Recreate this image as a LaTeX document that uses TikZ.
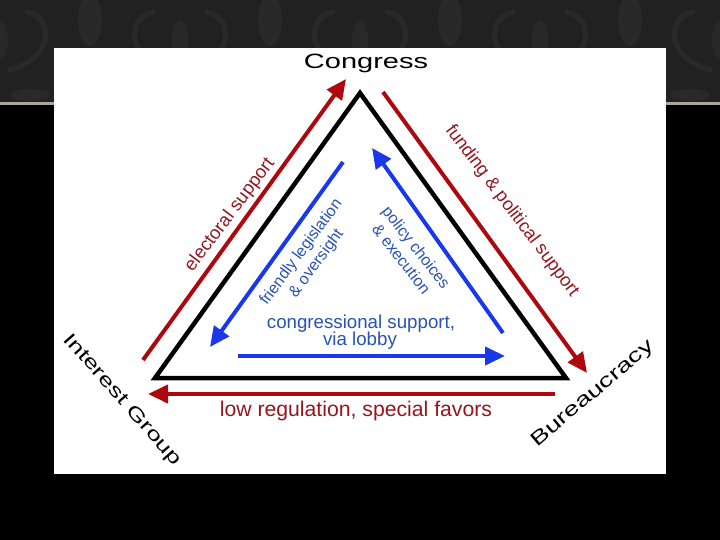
\documentclass[tikz,border=0pt]{standalone}
\usepackage{fontspec}
\setmainfont{Liberation Sans}
\newfontfamily\widefont[FakeStretch=1.4]{Liberation Sans}
\usetikzlibrary{arrows.meta}
\definecolor{arrred}{RGB}{172,8,14}
\definecolor{txtred}{RGB}{150,22,30}
\definecolor{arrblue}{RGB}{25,55,235}
\definecolor{txtblue}{RGB}{40,82,180}
\definecolor{band}{RGB}{33,33,33}
\definecolor{damask}{RGB}{41,41,41}
\definecolor{sepline}{RGB}{172,166,150}
\begin{document}
\begin{tikzpicture}[x=1pt,y=-1pt,
  redarrow/.style={draw=arrred, line width=4pt, -{Triangle[length=20pt,width=18pt]}},
  bluearrow/.style={draw=arrblue, line width=4pt, -{Triangle[length=20pt,width=18pt]}},
  corner/.style={font=\widefont\fontsize{#1}{#1}\selectfont, text=black, inner sep=0pt},
  redlabel/.style={font=\fontsize{#1}{#1}\selectfont, text=txtred, inner sep=0pt},
  bluelabel/.style={font=\fontsize{#1}{19}\selectfont, text=txtblue, inner sep=0pt, align=center}]
\useasboundingbox (0,0) rectangle (720,540);
% background
\fill[black] (0,0) rectangle (720,540);
\fill[band] (0,0) rectangle (720,103);
\begin{scope}
  \clip (0,0) rectangle (720,103);
  \foreach \cx in {0,180,360,540,720} {
    \fill[damask] (\cx,40) ellipse [x radius=8, y radius=20];
    \draw[damask, line width=5pt] ({\cx-8},70) .. controls ({\cx-55},60) and ({\cx-55},15) .. ({\cx-25},12);
    \draw[damask, line width=5pt] ({\cx+8},70) .. controls ({\cx+55},60) and ({\cx+55},15) .. ({\cx+25},12);
    \fill[damask] ({\cx-30},95) ellipse [x radius=20, y radius=6];
    \fill[damask] ({\cx+30},95) ellipse [x radius=20, y radius=6];
    \fill[damask] ({\cx+90},20) ellipse [x radius=12, y radius=26];
    \draw[damask, line width=6pt] ({\cx+90},60) .. controls ({\cx+60},80) and ({\cx+45},100) .. ({\cx+70},110);
    \draw[damask, line width=6pt] ({\cx+90},60) .. controls ({\cx+120},80) and ({\cx+135},100) .. ({\cx+110},110);
  }
\end{scope}
\fill[sepline] (0,102.5) rectangle (720,105);
% white panel
\fill[white] (54,48) rectangle (666,474);
% triangle corners
\coordinate (apex) at (360,93);
\coordinate (bl) at (155,378);
\coordinate (br) at (566,378);
\draw[line width=4.5pt, line join=miter] (apex) -- (bl) -- (br) -- cycle;
% arrow end points
\coordinate (elecS) at (143,360);
\coordinate (elecE) at (346,79);
\coordinate (fundS) at (383,92);
\coordinate (fundE) at (587,373);
\coordinate (lowS) at (555,394);
\coordinate (lowE) at (148,394);
\coordinate (friS) at (343,162);
\coordinate (friE) at (210,347);
\coordinate (polS) at (503,333);
\coordinate (polE) at (372,148);
\coordinate (conS) at (238,356);
\coordinate (conE) at (505,356);
\draw[redarrow] (elecS) -- (elecE);
\draw[redarrow] (fundS) -- (fundE);
\draw[redarrow] (lowS) -- (lowE);
\draw[bluearrow] (friS) -- (friE);
\draw[bluearrow] (polS) -- (polE);
\draw[bluearrow] (conS) -- (conE);
% corner labels
\node[corner=20.7, anchor=base] (congress) at (366,68.3) {Congress};
\node[corner=18.8, rotate=-48.5] (interest) at (122,400) {Interest Group};
\node[corner=19.6, rotate=40] (bureau) at (593,394) {Bureaucracy};
% red labels
\node[redlabel=18.5, rotate=53] (elec) at (230,215) {electoral support};
\node[redlabel=18.3, rotate=-53] (fund) at (512,211) {funding \& political support};
\node[redlabel=21.2, anchor=base] (low) at (356,416.5) {low regulation, special favors};
% blue labels
\node[bluelabel=16, rotate=53.5] (fri) at (309,258) {friendly legislation\\\& oversight};
\node[bluelabel=16, rotate=-52] (pol) at (409,253) {policy choices\\\& execution};
\node[bluelabel=18.7, anchor=base] (cong1) at (361,328) {congressional support,};
\node[bluelabel=18.7, anchor=base] (cong2) at (360,345.7) {via lobby};
\end{tikzpicture}
\end{document}
